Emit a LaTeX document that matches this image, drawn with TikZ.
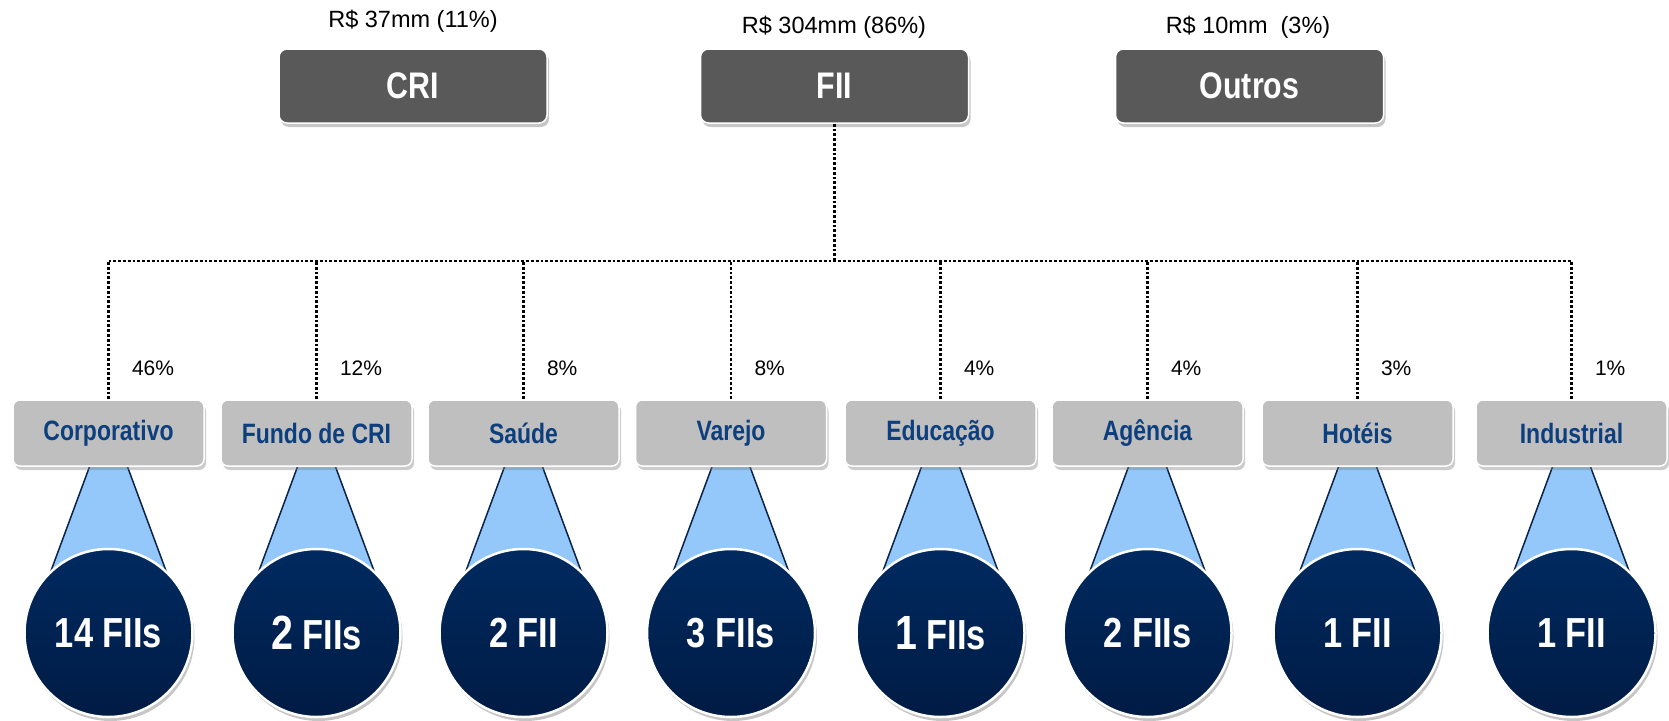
\documentclass[tikz,border=0pt]{standalone}
\usepackage{fontspec}
\setmainfont{Liberation Sans}
\newfontfamily\narrowfont[FakeStretch=0.82]{Liberation Sans}
\usepackage{tikz}
\usetikzlibrary{backgrounds, positioning, shadows, calc}

\definecolor{topgray}{HTML}{595959}
\definecolor{secgray}{HTML}{BFBFBF}
\definecolor{secblue}{HTML}{0D3F7F}
\definecolor{conefill}{HTML}{94C8FA}
\definecolor{coneline}{HTML}{0B2348}
\definecolor{fundtop}{HTML}{002A60}
\definecolor{fundbottom}{HTML}{001B44}

\newcommand{\bignum}[1]{{\fontsize{48}{48}\selectfont #1}}

\tikzset{
  topbox/.style={draw=white, line width=1.5pt, fill=topgray, rounded corners=8pt,
    minimum width=268pt, minimum height=74pt, text=white,
    font=\narrowfont\bfseries\fontsize{37}{40}\selectfont,
    drop shadow={opacity=0.45, shadow xshift=2pt, shadow yshift=-4pt}},
  toplabel/.style={font=\fontsize{23.5}{26}\selectfont},
  secbox/.style={draw=white, line width=1.5pt, fill=secgray, rounded corners=7pt,
    minimum width=191pt, minimum height=66pt, text=secblue,
    font=\narrowfont\bfseries\fontsize{28}{30}\selectfont,
    drop shadow={opacity=0.4, shadow xshift=2pt, shadow yshift=-4pt}},
  pctlabel/.style={font=\fontsize{21}{24}\selectfont, anchor=west},
  fundcircle/.style={circle, draw=white, line width=2.5pt, minimum size=168pt, inner sep=0pt,
    top color=fundtop, bottom color=fundbottom, text=white,
    font=\narrowfont\bfseries\fontsize{42}{44}\selectfont,
    drop shadow={opacity=0.45, shadow xshift=2pt, shadow yshift=-4pt}},
  dotline/.style={line width=2.8pt, dash pattern=on 2.8pt off 2pt},
  coneedge/.style={draw=coneline, line width=1.5pt}
}

\begin{document}
\begin{tikzpicture}[x=1pt, y=-1pt]
  \useasboundingbox (0,0) rectangle (1669,720);

  % top level
  \node[topbox] (cri) at (413,86) {CRI};
  \node[topbox] (fii) at (834.5,86) {FII};
  \node[topbox] (outros) at (1249.5,86) {Outros};

  \node[toplabel] (crival) at (413,21) {R\$ 37mm (11\%)};
  \node[toplabel] (fiival) at (834,27) {R\$ 304mm (86\%)};
  \node[toplabel] (outrosval) at (1248,27) {R\$ 10mm\ \ (3\%)};

  \coordinate (bus) at (834.5,261);

  % segments and funds
  \foreach \i/\x/\name/\pct/\num in {
      1/108.5/Corporativo/46\%/{14 FIIs},
      2/316.5/{Fundo de CRI}/12\%/{\bignum{2} FIIs},
      3/523.5/Saúde/8\%/{2 FII},
      4/731/Varejo/8\%/{3 FIIs},
      5/940.5/Educação/4\%/{\bignum{1} FIIs},
      6/1147.5/Agência/4\%/{2 FIIs},
      7/1357.5/Hotéis/3\%/{1 FII},
      8/1571.5/Industrial/1\%/{1 FII}} {
    \node[secbox] (sec\i) at (\x,433) {\name};
    \node[pctlabel] (pct\i) at ($(sec\i.north)+(20,-31)$) {\pct};
    \node[fundcircle] (fund\i) at (\x,633) {\num};
    \draw[dotline] (sec\i.north) -- (sec\i.north |- bus);
  }

  % dotted tree
  \draw[dotline] (fii.south) -- (bus);
  \draw[dotline] (sec1.north |- bus) -- (sec8.north |- bus);

  % cones behind the circles
  \begin{pgfonlayer}{background}
    \foreach \i in {1,...,8} {
      \fill[conefill] ($(sec\i.south)+(-19,0)$) -- ($(sec\i.south)+(19,0)$)
        -- ($(sec\i.south)+(76,154)$) -- ($(sec\i.south)+(-76,154)$) -- cycle;
      \draw[coneedge] ($(sec\i.south)+(-19,0)$) -- ($(sec\i.south)+(-76,154)$);
      \draw[coneedge] ($(sec\i.south)+(19,0)$) -- ($(sec\i.south)+(76,154)$);
    }
  \end{pgfonlayer}
\end{tikzpicture}
\end{document}
